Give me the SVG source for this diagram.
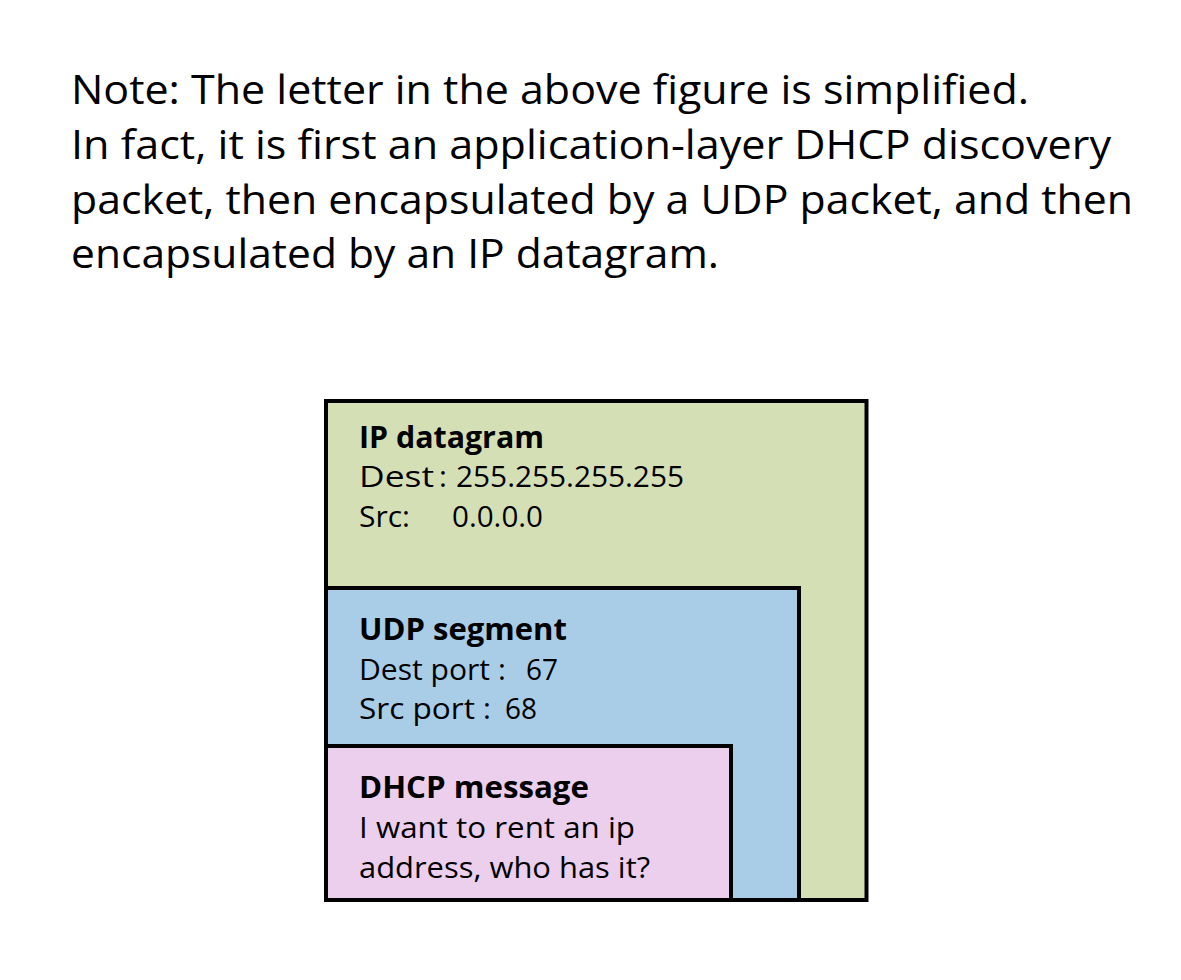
<svg xmlns="http://www.w3.org/2000/svg" width="1181" height="980" viewBox="0 0 1181 980">
<style>
.note{font-family:"Open Sans","Noto Sans",sans-serif;font-size:40px;fill:#000}
.t{font-family:"Open Sans","Noto Sans",sans-serif;font-size:30px;fill:#000}
.b{font-weight:bold}
.box{stroke:#000;stroke-width:4}
.ip{fill:#D5DFB6}
.udp{fill:#A9CDE7}
.dhcp{fill:#ECCFEC}
</style>
<rect width="1181" height="980" fill="#fff"/>
<g id="note">
<text class="note" x="71" y="103.5" textLength="958" lengthAdjust="spacingAndGlyphs">Note: The letter in the above figure is simplified.</text>
<text class="note" x="71" y="158.5" textLength="1040" lengthAdjust="spacingAndGlyphs">In fact, it is first an application-layer DHCP discovery</text>
<text class="note" x="71" y="213.5" textLength="1062" lengthAdjust="spacingAndGlyphs">packet, then encapsulated by a UDP packet, and then</text>
<text class="note" x="71" y="268" textLength="648" lengthAdjust="spacingAndGlyphs">encapsulated by an IP datagram.</text>
</g>
<g id="ip-datagram">
<rect class="box ip" x="326" y="401" width="540.5" height="499"/>
<text class="t b" x="359" y="447.5" textLength="185" lengthAdjust="spacingAndGlyphs">IP datagram</text>
<text class="t" y="487"><tspan x="359" textLength="75" lengthAdjust="spacingAndGlyphs">Dest</tspan><tspan x="439">:</tspan><tspan x="456" textLength="228" lengthAdjust="spacingAndGlyphs">255.255.255.255</tspan></text>
<text class="t" y="527"><tspan x="359">Src</tspan><tspan x="402">:</tspan><tspan x="452" textLength="91" lengthAdjust="spacingAndGlyphs">0.0.0.0</tspan></text>
</g>
<g id="udp-segment">
<rect class="box udp" x="326" y="588" width="473" height="312"/>
<text class="t b" x="359" y="640" textLength="208" lengthAdjust="spacingAndGlyphs">UDP segment</text>
<text class="t" y="680"><tspan x="359" textLength="131" lengthAdjust="spacingAndGlyphs">Dest port</tspan><tspan x="498">:</tspan><tspan x="526" textLength="32" lengthAdjust="spacingAndGlyphs">67</tspan></text>
<text class="t" y="718.5"><tspan x="359" textLength="116" lengthAdjust="spacingAndGlyphs">Src port</tspan><tspan x="483">:</tspan><tspan x="505" textLength="32" lengthAdjust="spacingAndGlyphs">68</tspan></text>
</g>
<g id="dhcp-message">
<rect class="box dhcp" x="326" y="746" width="405" height="154"/>
<text class="t b" x="359" y="798" textLength="230" lengthAdjust="spacingAndGlyphs">DHCP message</text>
<text class="t" x="359" y="838" textLength="276" lengthAdjust="spacingAndGlyphs">I want to rent an ip</text>
<text class="t" x="359" y="878" textLength="291" lengthAdjust="spacingAndGlyphs">address, who has it?</text>
</g>
<g id="connectors"/>
</svg>
